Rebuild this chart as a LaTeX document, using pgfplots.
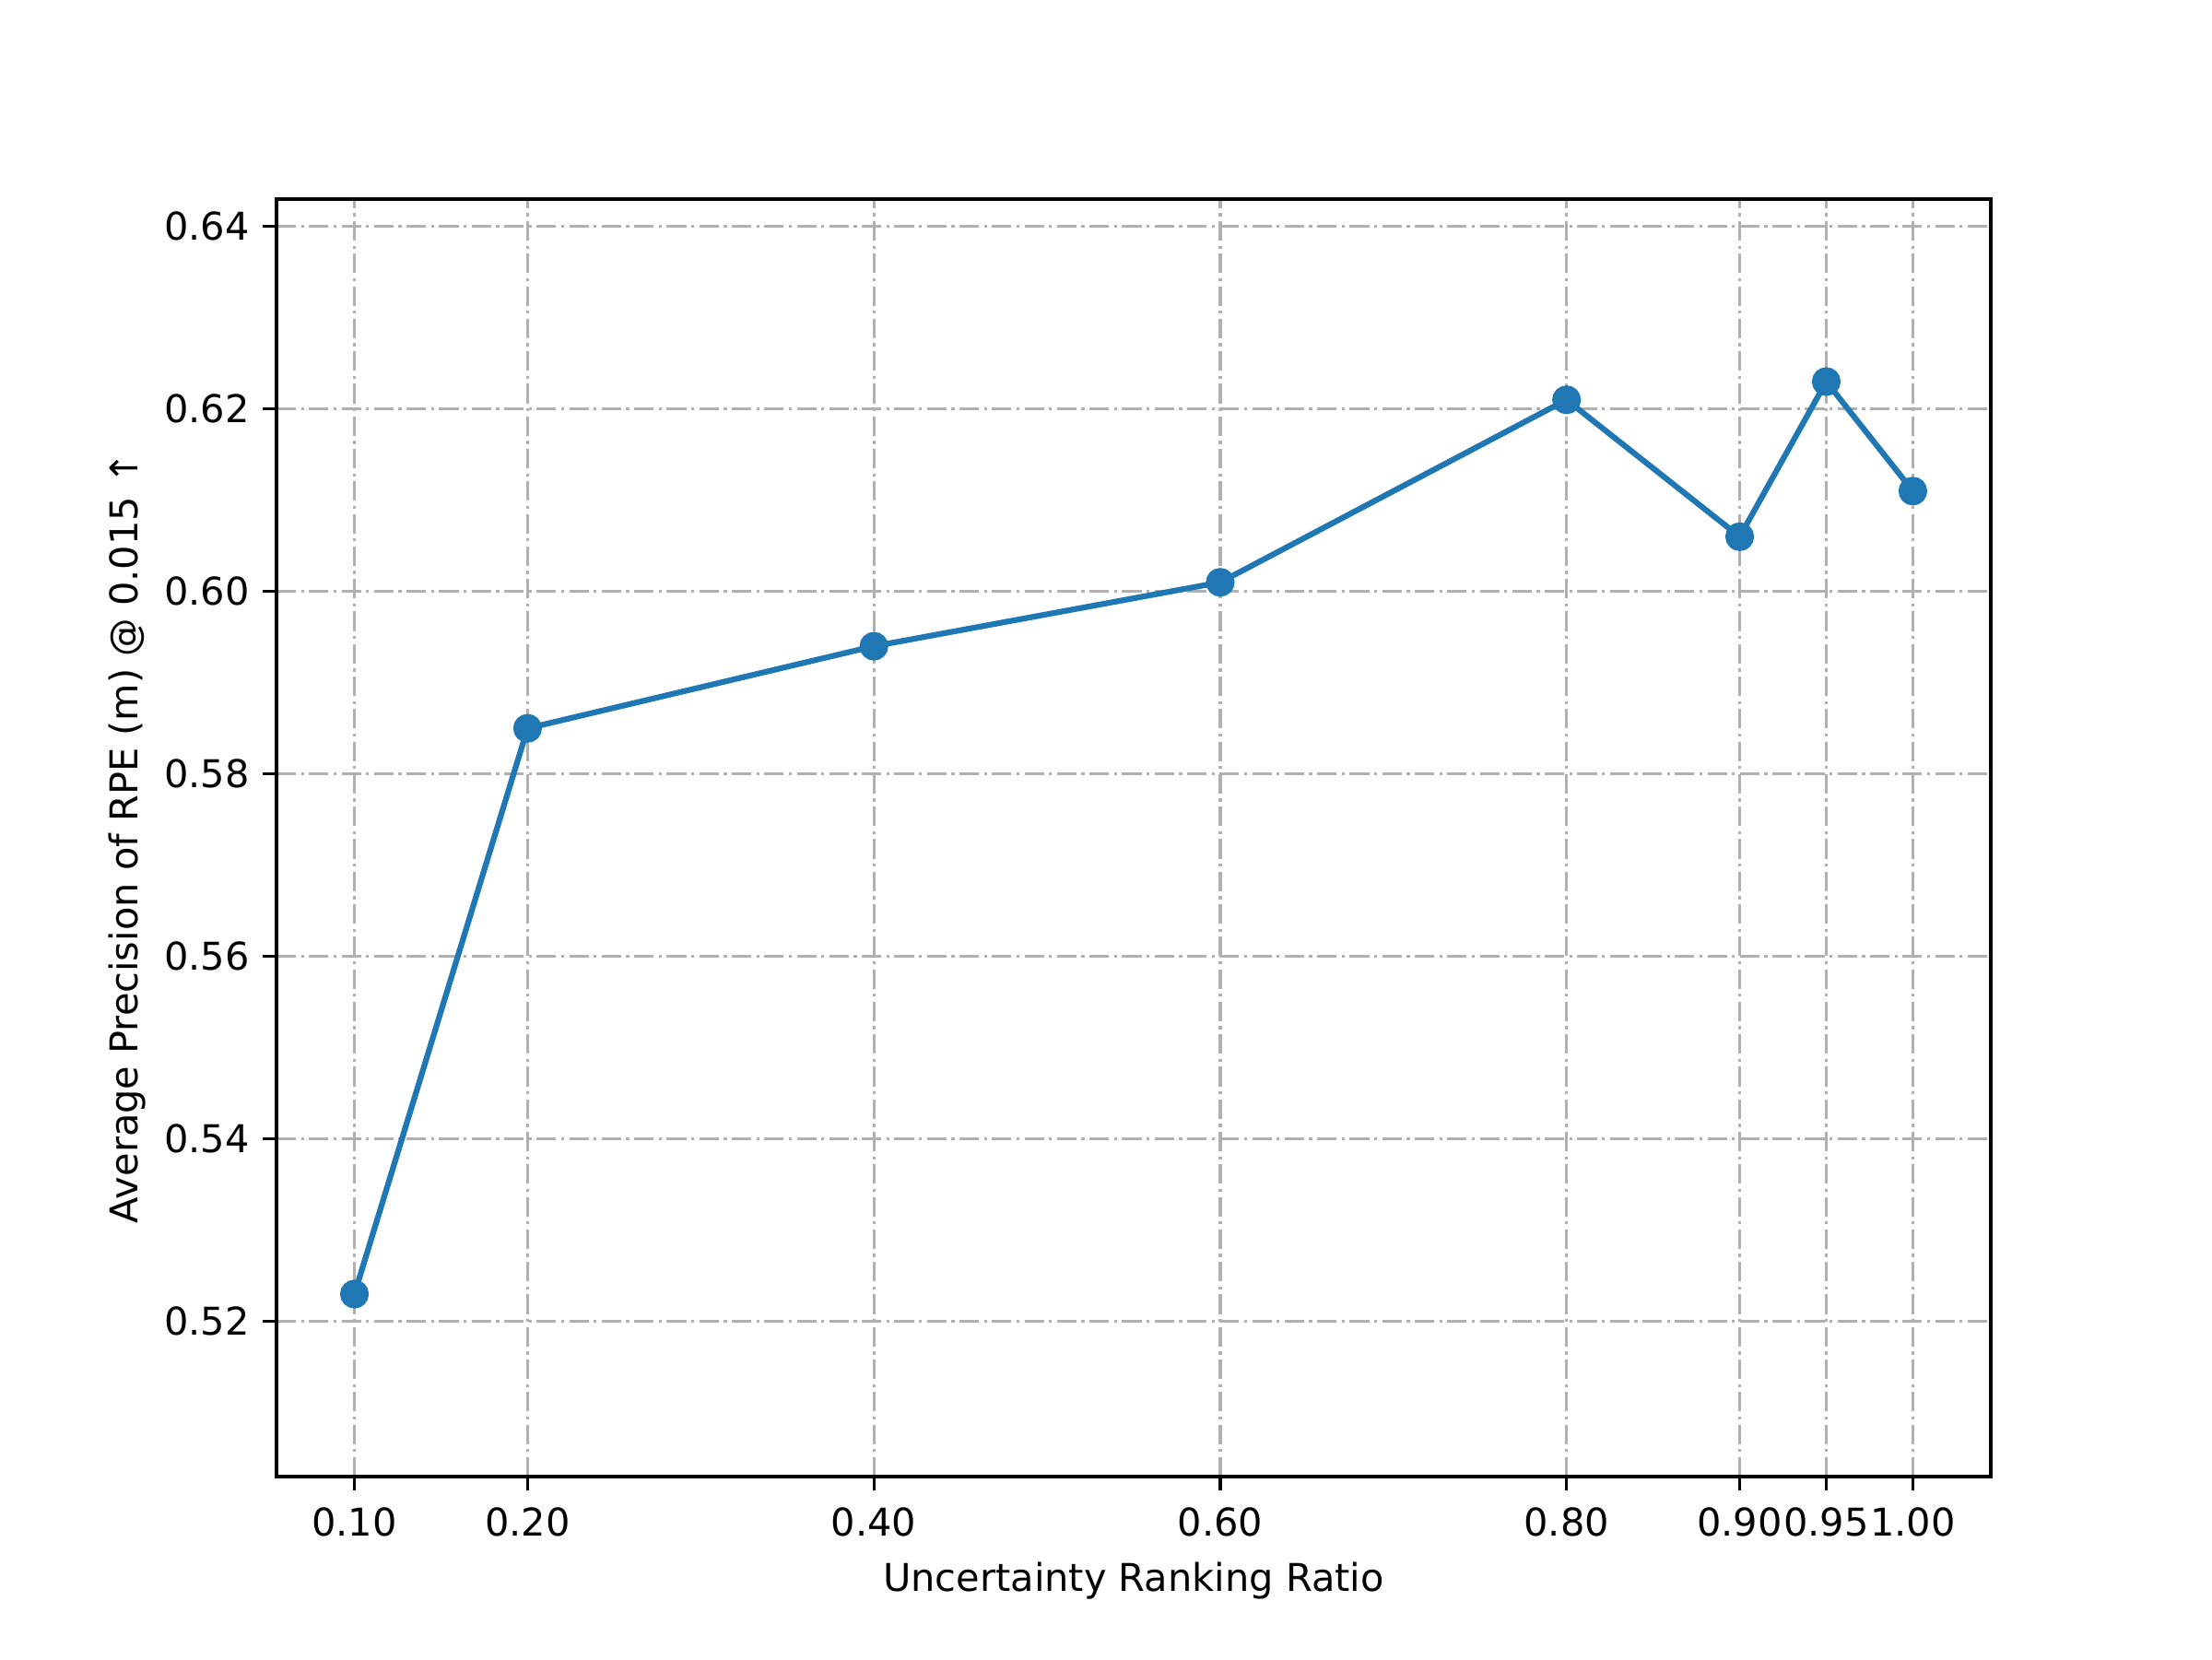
\documentclass[border=0pt]{standalone}
\usepackage{fontspec}
\setmainfont{DejaVu Sans}
\usepackage{pgfplots}
\pgfplotsset{compat=1.18}
\definecolor{mplblue}{HTML}{1F77B4}
\definecolor{gridgray}{HTML}{B0B0B0}

\begin{document}
\fontsize{10}{12}\selectfont
\begin{tikzpicture}
\path[use as bounding box] (0,0) rectangle (8in,6in);
\begin{axis}[
  at={(1in,0.66in)}, anchor=south west,
  scale only axis, width=6.2in, height=4.62in,
  xmin=0.055, xmax=1.045, ymin=0.503, ymax=0.643,
  xtick={0.1,0.2,0.4,0.6,0.8,0.9,0.95,1.0},
  xticklabels={0.10,0.20,0.40,0.60,0.80,0.90,0.95,1.00},
  ytick={0.52,0.54,0.56,0.58,0.60,0.62,0.64},
  yticklabel style={/pgf/number format/.cd,fixed,fixed zerofill,precision=2},
  /pgf/number format/assume math mode=true,
  tick label style={font=\fontsize{10}{12}\selectfont},
  label style={font=\fontsize{10}{12}\selectfont},
  xlabel={Uncertainty Ranking Ratio},
  ylabel={Average Precision of RPE (m) @ 0.015 ↑},
  ylabel style={yshift=-2pt},
  axis line style={line width=0.8pt},
  tick style={black,line width=0.8pt},
  tick align=outside, major tick length=3.5pt,
  xtick pos=bottom, ytick pos=left,
  xticklabel style={yshift=-1pt},
  grid=major,
  major grid style={gridgray,line width=0.8pt,dash pattern=on 5.1pt off 1.3pt on 0.8pt off 1.3pt},
]
\addplot[mplblue, line width=1.5pt, mark=*, mark size=3pt, mark options={solid,fill=mplblue,draw=mplblue}]
  coordinates {
    (0.10, 0.523)
    (0.20, 0.585)
    (0.40, 0.594)
    (0.60, 0.601)
    (0.80, 0.621)
    (0.90, 0.606)
    (0.95, 0.623)
    (1.00, 0.611)
  };
\end{axis}
\end{tikzpicture}
\end{document}
